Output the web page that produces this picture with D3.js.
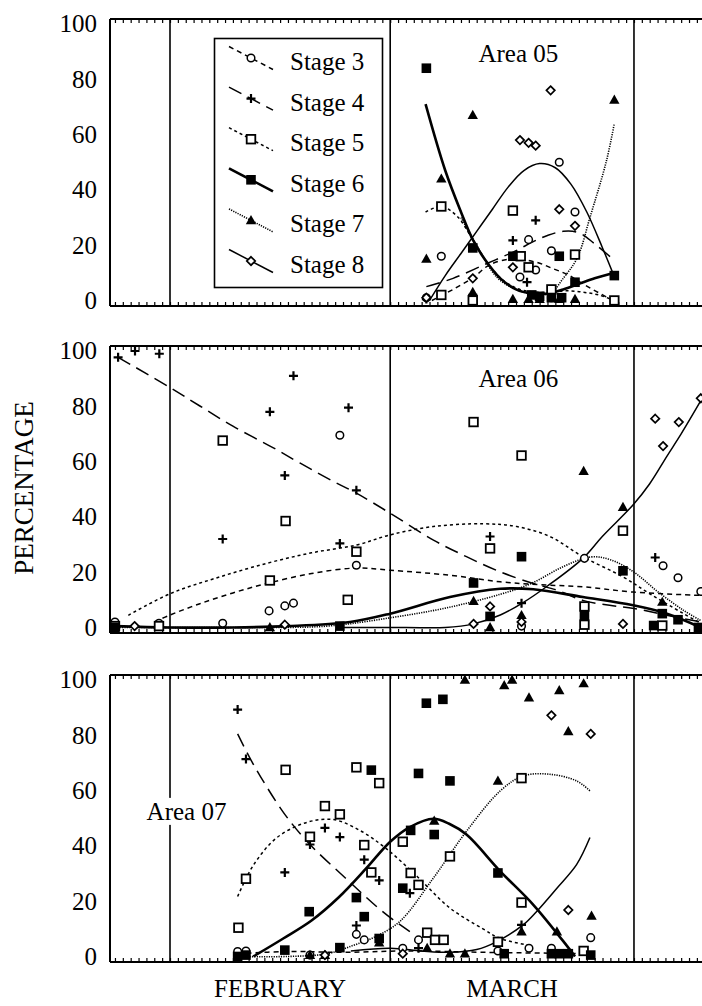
<!DOCTYPE html>
<html><head><meta charset="utf-8">
<script src="https://cdn.jsdelivr.net/npm/d3@7"></script>
<style>body{margin:0;background:#fff}svg{display:block}text{font-family:"Liberation Serif","Times New Roman",serif;fill:#000}</style>
</head><body><div id="chart"></div>
<script>
// ---------- DATA ----------
const stageNames = ["Stage 3","Stage 4","Stage 5","Stage 6","Stage 7","Stage 8"];
const areaNames = ["Area 05","Area 06","Area 07"];
const monthStarts = [0, 28, 59];          // days since Feb 1
const monthLabels = ["FEBRUARY","MARCH"];
const monthLabelDays = [14, 43.5];
const yTicks = [0,20,40,60,80,100];

// Area 05 observations [day, %]
const p05s3 = [[32.6,1],[34.5,16],[44.5,8.5],[45.6,22],[46.5,11],[48.5,18],[49.5,50],[51.5,32]];
const p05s4 = [[32.6,0.5],[34.5,2],[38.5,2],[43.6,21.7],[45.4,6.6],[46.5,29],[48.5,1]];
const p05s5 = [[34.5,34],[34.5,2],[38.5,0],[43.6,32.5],[44.6,16],[45.6,12],[48.5,4],[51.5,16.6],[56.5,0]];
const p05s6 = [[32.6,84],[38.5,19],[43.6,16],[46,2],[47,1.5],[48.5,1],[49.5,16],[49.8,1],[51.5,6.6],[56.5,9]];
const p05s7 = [[32.6,15],[34.5,44],[38.5,67],[38.5,3],[43.6,0.5],[45.6,0.5],[47,0.5],[49.5,0.5],[51.5,0.5],[56.5,72.5]];
const p05s8 = [[32.6,1],[38.5,8],[43.6,12],[44.5,58],[45.6,57],[46.5,56],[48.4,76],[49.5,33],[51.5,27]];
// Area 05 fitted curves
const c05s3 = [[33.3,0],[36,4],[38.6,8.4],[40.7,13],[43.6,15],[46.6,13.8],[48.7,11.5],[50.6,9.3],[52.5,6],[56.3,0]];
const c05s4 = [[32.6,5],[36,8],[40,13],[44,18],[46,21],[48,23.5],[50,25],[52,24.5],[54,20.5],[56.3,15]];
const c05s5 = [[32.5,32],[34.5,34],[36.5,30.5],[38.5,22],[40.5,13],[42.5,7],[44.5,4],[46.5,3],[48.5,3],[50.5,3.5],[52.5,3],[54.5,2],[56.5,0]];
const c05s6 = [[32.5,71],[35,47],[37,32],[38.5,22],[40,15],[42,8],[44,4],[46,2.5],[48,2.5],[50,4],[52,6],[54,8],[56.5,10]];
const c05s7 = [[37,30],[39,20],[41.6,8.3],[44,4],[46,2.5],[48.3,2.5],[50,8],[51.8,15.5],[53.4,30],[55.5,50.5],[56.5,64]];
const c05s8 = [[33,0],[35,9],[37,17],[39,25],[41,33],[43,41],[45,47],[47,49.5],[49,48],[51,42],[53,32],[55,19],[56.3,10]];

// Area 06 observations
const p06s3 = [[-7,2],[-1.4,1.5],[6.7,1.5],[12.6,6],[14.6,7.8],[15.7,8.8],[21.6,69.5],[23.7,22.5],[44.7,0.5],[52.7,25],[62.7,22.3],[64.6,18],[67.5,13]];
const p06s4 = [[-6.6,97.7],[-4.45,100],[-1.36,99],[6.7,32],[12.7,78],[14.6,55],[15.7,91],[21.6,30.4],[22.7,79.5],[23.7,49.6],[40.7,32.9],[44.7,8.8],[61.7,25.3]];
const p06s5 = [[-7,0.5],[-1.4,0.5],[6.7,67.6],[12.7,17],[14.7,38.5],[22.6,10],[23.7,27.4],[38.6,74.3],[40.7,28.6],[44.7,62.2],[52.7,7.6],[52.7,1],[57.6,35],[62.6,0.7]];
const p06s6 = [[-7,0],[21.6,0.5],[38.6,16.1],[40.7,4],[44.7,25.6],[52.7,4.4],[57.6,20.5],[61.5,0.7],[62.6,5],[64.6,2.8],[67.2,0]];
const p06s7 = [[12.7,0],[38.6,9.5],[40.7,0],[44.7,4.4],[52.6,56.5],[57.6,43.5],[62.6,9.2]];
const p06s8 = [[-4.5,0.5],[14.6,1],[38.6,1.3],[40.7,7.6],[44.7,2],[57.6,1.3],[61.7,75.5],[62.7,65.6],[64.7,74.3],[67.5,82.9]];
// Area 06 fitted curves
const c06s3 = [[-2,2],[0,4.5],[3.8,8.6],[8,12.5],[12.3,15.9],[18,19.5],[23.7,21.5],[28,20.7],[35.6,18.9],[42,16.5],[47,15.5],[52.5,14.7],[58.9,12.8],[67.5,11.6]];
const c06s4 = [[-6.6,97.7],[0,86.8],[3.8,80.1],[8,72.8],[13.5,64.4],[16.5,59.5],[20.8,52.8],[23.7,48.6],[28,41.3],[33.5,31.6],[37.7,25.6],[42,20.1],[46.2,15.9],[49.2,13.5],[52.5,9.8],[55.9,8],[59,6.9],[63,4.5],[67.5,2]];
const c06s5 = [[-5.3,4.4],[0,12.2],[6,18],[12.3,23.2],[18,27],[23.7,29.8],[28,33.5],[33.5,36.5],[39.8,37.5],[44.1,36.5],[48.3,32.9],[52.5,25.6],[57.6,18.3],[61,12.2],[65.3,5],[67.5,1.5]];
const c06s6 = [[-7,0.5],[0,0],[8,0],[15,0.5],[22.9,2],[28,5],[35.6,11],[42,14],[46.2,13.8],[52.5,11],[58.9,8],[63.2,5],[67.5,0]];
const c06s7 = [[-7,0],[10,0],[20,0.5],[28,3.5],[35,7],[42,12],[46,16],[50,22],[53.5,25.5],[56,24.5],[59,20],[62,13],[65.3,6.2],[67.5,2.5]];
const c06s8 = [[22,0],[30,0],[35,0],[38.6,1.3],[42,4.5],[44.9,9],[48,15],[52.5,25],[55,33],[58.9,44.4],[61,52],[63.2,62],[65,70],[67.5,82]];

// Area 07 observations
const p07s3 = [[8.6,1.8],[9.66,2],[17.8,0.5],[23.7,8],[24.7,6],[29.6,3],[31.6,6],[41.7,2],[45.65,3],[48.5,3],[53.5,6.8]];
const p07s4 = [[8.6,89.3],[9.66,71.4],[14.6,30.4],[17.8,40.5],[19.7,46.5],[21.6,43.2],[23.7,11.2],[24.7,35],[26.6,27.5],[30.5,22.9],[31.6,3],[44.7,11.4]];
const p07s5 = [[8.7,10.4],[9.66,28.1],[14.7,67.5],[17.8,43.3],[19.7,54.4],[21.6,51.4],[23.7,68.4],[24.7,40.3],[25.6,30.4],[26.6,62.7],[29.6,41.5],[30.6,30.2],[31.6,25.9],[32.7,8.6],[33.7,6],[34.8,6],[35.6,36.2],[41.7,5.3],[44.7,64.5],[44.7,19.5],[52.6,2]];
const p07s6 = [[8.6,0],[9.66,0.5],[14.6,2.3],[17.7,16.2],[21.6,3.2],[23.7,21.3],[24.7,14.4],[25.6,67.4],[26.6,6.5],[29.6,24.7],[30.6,45.6],[31.6,66.2],[32.6,91.6],[33.6,44.1],[34.7,93],[35.6,63.5],[41.7,30.2],[42.5,1],[48.5,1],[49.5,1],[50.65,1],[53.5,0.5]];
const p07s7 = [[17.8,0.5],[19.7,0.5],[26.6,5],[32.7,3],[33.6,49],[35.6,1],[37.5,100],[37.5,1],[41.7,63.5],[42.5,98],[43.5,100],[44.7,9],[45.65,93.6],[49.2,9],[49.5,96.2],[50.65,81.4],[52.6,98.7],[53.6,14.7]];
const p07s8 = [[19.7,0.5],[29.6,1],[48.5,87.2],[50.65,16.8],[53.5,80.5]];
// Area 07 fitted curves
const c07s3 = [[8.6,1],[15,1.8],[22,1.5],[30,2],[40,1.5],[53.5,1]];
const c07s4 = [[8.6,80.5],[10.6,69.5],[14.6,51.4],[17.8,40.5],[22.3,28.4],[26.3,18],[28.5,13],[30.5,9]];
const c07s5 = [[8.6,21.7],[10.6,33],[13.6,43],[17.4,48.5],[20.8,49.5],[24.2,45.5],[27.5,39],[31.4,29],[35.6,17.5],[39.8,10],[42,6.5],[45.8,4]];
const c07s6 = [[10.6,0],[14.4,6.5],[18,13],[21.5,21.5],[25,32],[28,41.5],[30.5,46.8],[33.5,49.8],[35.5,48],[37.7,44.1],[42,30.8],[46.2,18.7],[50.4,4.1],[51.5,0]];
const c07s7 = [[8.6,0],[15,0],[20,1],[23.3,4],[26,7],[29.2,12.6],[33.5,28.4],[37.7,45.3],[42,59.9],[44.9,65.3],[48.3,65.9],[51.7,63.5],[53.4,59.9]];
const c07s8 = [[23,2],[28,3],[32,2],[35.6,1.5],[39,2.5],[41.5,5.3],[44.9,11.4],[46.6,16.2],[49.2,24.7],[51.7,33.2],[53.4,43]];

const panelPoints = [[p05s3,p05s4,p05s5,p05s6,p05s7,p05s8],[p06s3,p06s4,p06s5,p06s6,p06s7,p06s8],[p07s3,p07s4,p07s5,p07s6,p07s7,p07s8]];
const panelCurves = [[c05s3,c05s4,c05s5,c05s6,c05s7,c05s8],[c06s3,c06s4,c06s5,c06s6,c06s7,c06s8],[c07s3,c07s4,c07s5,c07s6,c07s7,c07s8]];

// ---------- STYLE / LAYOUT ----------
const W = 702, H = 1006;
const panelTops = [19, 346, 675], panelH = 287;
const left = 110, right = 702;
const FONT = 25;
const dashes = ["5,4", "14,7", "3,3", null, "1.2,1.2", null];
const widths = [1.5, 1.5, 1.5, 2.6, 1.6, 1.5];

const svg = d3.select("#chart").append("svg").attr("width", W).attr("height", H);
const x = d3.scaleLinear().domain([-7.63, 67.65]).range([left, right]);
const y = d3.scaleLinear().domain([-2, 101.8]).range([panelH, 0]);

function marker(g, s, cx, cy) {
  if (s === 0) g.append("circle").attr("cx", cx).attr("cy", cy).attr("r", 3.8).attr("fill", "#fff").attr("stroke", "#000").attr("stroke-width", 1.5);
  else if (s === 1) g.append("path").attr("d", `M${cx-4.5},${cy}H${cx+4.5}M${cx},${cy-4.5}V${cy+4.5}`).attr("stroke", "#000").attr("stroke-width", 2.2);
  else if (s === 2) g.append("rect").attr("x", cx-4.3).attr("y", cy-4.3).attr("width", 8.6).attr("height", 8.6).attr("fill", "#fff").attr("stroke", "#000").attr("stroke-width", 1.8);
  else if (s === 3) g.append("rect").attr("x", cx-4.8).attr("y", cy-4.8).attr("width", 9.6).attr("height", 9.6).attr("fill", "#000");
  else if (s === 4) g.append("path").attr("d", `M${cx},${cy-5.4}L${cx+5.2},${cy+3.8}L${cx-5.2},${cy+3.8}Z`).attr("fill", "#000");
  else g.append("path").attr("d", `M${cx},${cy-4.2}L${cx+4.2},${cy}L${cx},${cy+4.2}L${cx-4.2},${cy}Z`).attr("fill", "#fff").attr("stroke", "#000").attr("stroke-width", 1.7);
}

const line = d3.line().x(d => x(d[0])).y(d => y(d[1])).curve(d3.curveCatmullRom.alpha(0.5));

panelTops.forEach((top, pi) => {
  const g = svg.append("g").attr("transform", `translate(0,${top})`);
  const cid = "clip" + pi;
  g.append("clipPath").attr("id", cid).append("rect").attr("x", left).attr("y", 0).attr("width", right - left).attr("height", panelH);

  // daily minor ticks top & bottom
  const tickDays = d3.range(-7, 68);
  g.append("g").call(d3.axisBottom(x).tickValues(tickDays).tickSize(4).tickFormat(""))
    .call(a => a.select(".domain").remove()).selectAll("line").attr("stroke-width", 1.2);
  g.append("g").attr("transform", `translate(0,${panelH})`).call(d3.axisTop(x).tickValues(tickDays).tickSize(4).tickFormat(""))
    .call(a => a.select(".domain").remove()).selectAll("line").attr("stroke-width", 1.2);

  // frame
  g.append("line").attr("x1", left).attr("x2", right).attr("y1", 0).attr("y2", 0).attr("stroke", "#000").attr("stroke-width", 2);
  g.append("line").attr("x1", left).attr("x2", right).attr("y1", panelH).attr("y2", panelH).attr("stroke", "#000").attr("stroke-width", 2);
  g.append("line").attr("x1", left).attr("x2", left).attr("y1", 0).attr("y2", panelH).attr("stroke", "#000").attr("stroke-width", 2);
  // month lines
  g.selectAll(".mline").data(monthStarts).join("line").attr("class", "mline")
    .attr("x1", d => x(d)).attr("x2", d => x(d)).attr("y1", 0).attr("y2", panelH)
    .attr("stroke", "#000").attr("stroke-width", 1.6);

  // y axis labels
  g.append("g").attr("transform", `translate(${left},0)`)
    .call(d3.axisLeft(y).tickValues(yTicks).tickSize(0).tickPadding(13))
    .call(a => a.select(".domain").remove())
    .selectAll("text").style("font-size", FONT + "px").style("font-family", '"Liberation Serif",serif');

  // area label
  const lbl = pi === 2 ? {d: 2.1, v: 49.4} : {d: 44.3, v: pi === 0 ? 86.4 : 87};
  const lblG = g.append("g");
  const t = lblG.append("text").attr("x", x(lbl.d)).attr("y", y(lbl.v)).attr("text-anchor", "middle")
    .style("font-size", FONT + "px").text(areaNames[pi]);
  if (pi === 2) {
    const bb = t.node().getBBox();
    lblG.insert("rect", () => t.node()).attr("x", bb.x - 2).attr("y", bb.y).attr("width", bb.width + 4).attr("height", bb.height).attr("fill", "#fff");
  }

  // curves
  const cg = g.append("g").attr("clip-path", `url(#${cid})`);
  panelCurves[pi].forEach((c, s) => {
    cg.append("path").datum(c).attr("d", line).attr("fill", "none").attr("stroke", "#000")
      .attr("stroke-width", widths[s]).attr("stroke-dasharray", dashes[s]);
  });
  // markers
  const mg = g.append("g").attr("clip-path", `url(#${cid})`);
  panelPoints[pi].forEach((pts, s) => pts.forEach(p => marker(mg, s, x(p[0]), y(p[1]))));
});

// legend
const lg = svg.append("g");
lg.append("rect").attr("x", 214.5).attr("y", 38.5).attr("width", 168).attr("height", 249)
  .attr("fill", "#fff").attr("stroke", "#000").attr("stroke-width", 1.6);
stageNames.forEach((n, i) => {
  const yc = 61.5 + i * 40.6;
  lg.append("line").attr("x1", 229).attr("y1", yc - 15).attr("x2", 273).attr("y2", yc + 8)
    .attr("stroke", "#000").attr("stroke-width", widths[i]).attr("stroke-dasharray", dashes[i]);
  marker(lg, i, 251, yc - 3.5);
  lg.append("text").attr("x", 290).attr("y", yc).attr("dominant-baseline", "central")
    .style("font-size", FONT + "px").text(n);
});

// month labels
svg.selectAll(".mlab").data(monthLabels).join("text").attr("class", "mlab")
  .attr("x", (d, i) => x(monthLabelDays[i])).attr("y", 997).attr("text-anchor", "middle")
  .style("font-size", "25px").text(d => d);

// y title
svg.append("text").attr("transform", "translate(33,488) rotate(-90)").attr("text-anchor", "middle")
  .style("font-size", "27px").text("PERCENTAGE");
</script></body></html>
